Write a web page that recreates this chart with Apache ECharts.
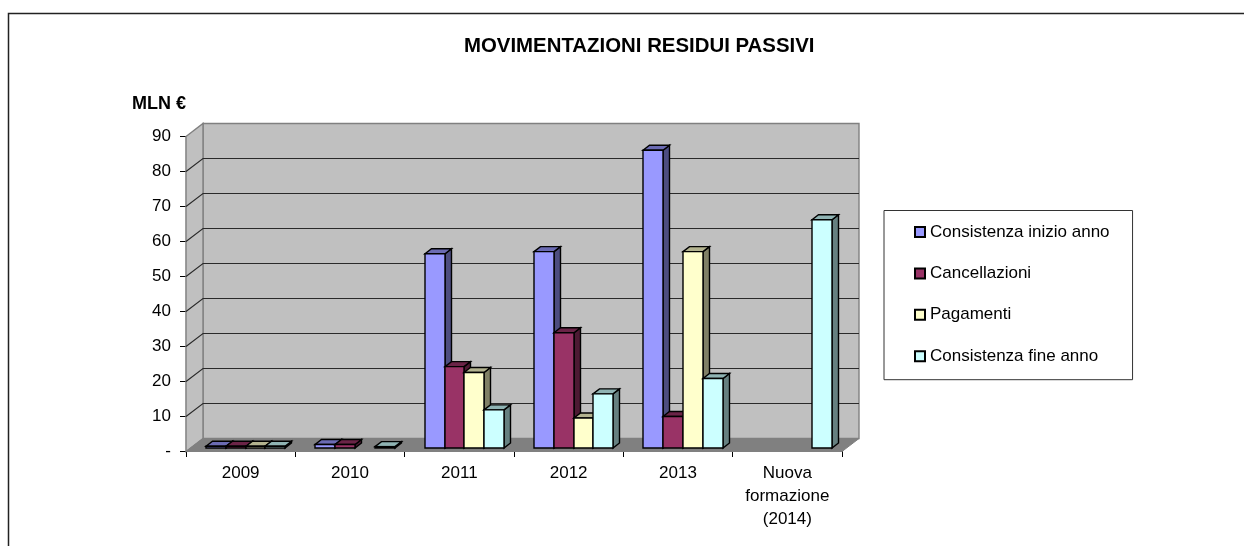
<!DOCTYPE html>
<html><head><meta charset="utf-8">
<style>html,body{margin:0;padding:0;background:#fff}#c{width:1244px;height:546px}</style>
<script src="https://cdn.jsdelivr.net/npm/echarts@6/dist/echarts.min.js"></script></head>
<body><div id="c"></div>
<script>
const categories = ['2009','2010','2011','2012','2013','Nuova\nformazione\n(2014)'];
const yTicks = [0,10,20,30,40,50,60,70,80,90];
const inizio = [0.5,1,55.6,56.2,85.2,null];
const cancellazioni = [0.5,1,23.3,33,9,null];
const pagamenti = [0.5,null,21.6,8.6,56.2,null];
const fine = [0.5,0.4,10.9,15.5,19.9,65.3];
const FONT = '"Liberation Sans", Arial, sans-serif';
const DX = 17, DY = -13;

const chart = echarts.init(document.getElementById('c'), null, {renderer:'canvas'});

function wallsRender(params, api){
  const v = api.value(0);
  const s = api.coord([0, v]);
  const size = api.size([1,0])[0];
  const x0 = s[0] - size/2, x1 = x0 + size*6, y = Math.round(s[1])+0.5;
  const out = [];
  if (params.dataIndex === 0){
    const top = api.coord([0,90])[1];
    out.push({type:'polygon',shape:{points:[[x0+DX,top+DY],[x1+DX,top+DY],[x1+DX,y+DY],[x0+DX,y+DY]]},style:{fill:'#c0c0c0',stroke:'#808080',lineWidth:1.4}});
    out.push({type:'polygon',shape:{points:[[x0,top],[x0+DX,top+DY],[x0+DX,y+DY],[x0,y]]},style:{fill:'#c0c0c0',stroke:'#808080',lineWidth:1.4}});
    out.push({type:'polygon',shape:{points:[[x0,y],[x1,y],[x1+DX,y+DY],[x0+DX,y+DY]]},style:{fill:'#808080',stroke:'#808080',lineWidth:1}});
  } else if (v < 90){
    out.push({type:'polyline',shape:{points:[[x0,y],[x0+DX,y+DY],[x1+DX,y+DY]]},style:{fill:null,stroke:'#2a2a2a',lineWidth:1.1}});
  }
  return {type:'group',children:out};
}

function barRender(idx, top, side){
  return function(params, api){
    const val = api.value(1);
    if (val == null || isNaN(val)) return null;
    const p = api.coord([api.value(0), val]);
    const b = api.coord([api.value(0), 0]);
    const band = api.size([1,0])[0];
    const w = band*0.181;
    const l = Math.round(p[0] + 5 - 2*w + idx*w), r = Math.round(p[0] + 5 - 2*w + (idx+1)*w);
    const t = p[1]-3, bot = b[1]-3;
    const dx = 6.5, dy = -5;
    const st = {stroke:'#000',lineWidth:1.4,lineJoin:'miter'};
    return {type:'group',children:[
      {type:'polygon',shape:{points:[[r,t],[r+dx,t+dy],[r+dx,bot+dy],[r,bot]]},style:Object.assign({fill:side},st)},
      {type:'polygon',shape:{points:[[l,t],[l+dx,t+dy],[r+dx,t+dy],[r,t]]},style:Object.assign({fill:top},st)},
      {type:'rect',shape:{x:l,y:t,width:r-l,height:bot-t},style:Object.assign({fill:api.visual('color')},st)}
    ]};
  };
}
function barSeries(name, vals, idx, color, top, side){
  return {name,type:'custom',coordinateSystem:'cartesian2d',clip:false,z:5,
    renderItem:barRender(idx,top,side),
    itemStyle:{color,borderColor:'#000',borderWidth:1.2},
    encode:{x:0,y:1},
    data:vals.map((v,i)=>[i,v])};
}

chart.setOption({
  animation:false,
  backgroundColor:'#fff',
  title:{text:'MOVIMENTAZIONI RESIDUI PASSIVI',left:464,top:36.5,padding:0,
    textStyle:{fontFamily:FONT,fontWeight:'bold',fontSize:20.4,color:'#000'}},
  grid:{left:186,right:402,top:136.5,bottom:95,containLabel:false},
  legend:{orient:'vertical',left:884,top:210.5,padding:[13,23,15,30],itemGap:24.4,itemWidth:10,itemHeight:10,
    backgroundColor:'#fff',borderColor:'#333',borderWidth:1,borderRadius:0,
    icon:'rect',selectedMode:false,
    data:['Consistenza inizio anno','Cancellazioni','Pagamenti','Consistenza fine anno'],
    textStyle:{fontFamily:FONT,fontSize:17,color:'#000',padding:[0,1,0,0]}},
  xAxis:{type:'category',data:categories,
    axisLine:{show:true,onZero:false,lineStyle:{color:'#000',width:1.2}},
    axisTick:{show:true,length:6,alignWithLabel:false,lineStyle:{color:'#000'}},
    axisLabel:{fontFamily:FONT,fontSize:17,color:'#000',margin:11,lineHeight:23,interval:0},
    splitLine:{show:false}},
  yAxis:{type:'value',min:0,max:90,interval:10,name:'MLN €',nameLocation:'end',nameGap:32,
    nameTextStyle:{fontFamily:FONT,fontWeight:'bold',fontSize:18,color:'#000',align:'right',verticalAlign:'middle'},
    axisLine:{show:true,onZero:false,lineStyle:{color:'#000',width:1.2}},
    axisTick:{show:true,length:6,lineStyle:{color:'#000'}},
    axisLabel:{fontFamily:FONT,fontSize:17,color:'#000',margin:15,formatter:v=>v===0?'-':String(v)},
    splitLine:{show:false}},
  graphic:[
    {type:'polyline',silent:true,shape:{points:[[8.5,546],[8.5,13.5],[1244,13.5]]},style:{fill:null,stroke:'#222',lineWidth:1.5}}
  ],
  series:[
    {type:'custom',name:'pareti',coordinateSystem:'cartesian2d',clip:false,z:1,renderItem:wallsRender,encode:{y:0},data:yTicks.map(v=>[v]),silent:true},
    barSeries('Consistenza inizio anno',inizio,0,'#9999ff','#6b6bb3','#4d4d80'),
    barSeries('Cancellazioni',cancellazioni,1,'#993366','#6b2447','#4d1a33'),
    barSeries('Pagamenti',pagamenti,2,'#ffffcc','#b3b38f','#808066'),
    barSeries('Consistenza fine anno',fine,3,'#ccffff','#8fb3b3','#668080')
  ]
});
</script></body></html>
